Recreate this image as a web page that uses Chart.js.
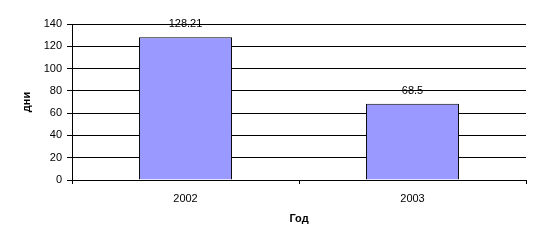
<!DOCTYPE html>
<html><head><meta charset="utf-8">
<script src="https://cdn.jsdelivr.net/npm/chart.js@4"></script>
<style>html,body{margin:0;padding:0;background:#fff}#wrap{width:542px;height:246px;position:relative}</style>
</head><body><div id="wrap"><canvas id="c"></canvas></div>
<script>
const categories = ["2002", "2003"];
const values = [128.21, 68.5];
const valueLabels = ["128.21", "68.5"];
const yTitle = "дни";
const xTitle = "Год";

const FONT = "'Liberation Sans', Arial, sans-serif";
const labelPlugin = {
  id: 'valueLabels',
  afterDatasetsDraw(chart) {
    const ctx = chart.ctx;
    const meta = chart.getDatasetMeta(0);
    ctx.save();
    ctx.font = "11px " + FONT;
    ctx.fillStyle = "#000";
    ctx.textAlign = "center";
    ctx.textBaseline = "middle";
    meta.data.forEach((bar, i) => {
      ctx.fillText(valueLabels[i], bar.x, bar.y - 13);
    });
    ctx.restore();
  }
};

new Chart(document.getElementById('c'), {
  type: 'bar',
  data: {
    labels: categories,
    datasets: [{
      data: values,
      backgroundColor: '#9999FF',
      borderColor: '#000',
      borderWidth: 1,
      barPercentage: 0.41,
      categoryPercentage: 1
    }]
  },
  options: {
    responsive: true,
    maintainAspectRatio: false,
    animation: false,
    layout: { padding: { left: 0, top: 24, right: 16, bottom: 0 } },
    plugins: { legend: { display: false }, tooltip: { enabled: false } },
    scales: {
      x: {
        offset: true,
        grid: { display: true, drawOnChartArea: false, drawTicks: true, tickLength: 4, color: '#000', offset: true },
        border: { display: true, color: '#000' },
        ticks: { color: '#000', font: { family: FONT, size: 11 }, padding: 8 },
        title: { display: true, text: xTitle, color: '#000', font: { family: FONT, size: 11, weight: 'bold' }, padding: { top: 0, bottom: 20 } },
        afterFit(s) { s.height = 66; }
      },
      y: {
        min: 0, max: 140,
        ticks: { stepSize: 20, color: '#000', font: { family: FONT, size: 11 }, padding: 5 },
        grid: { color: '#000', lineWidth: 1, drawTicks: true, tickLength: 5 },
        border: { display: true, color: '#000' },
        title: { display: true, text: yTitle, color: '#000', font: { family: FONT, size: 11, weight: 'bold' }, padding: { top: 20, bottom: 0 } },
        afterFit(s) { s.width = 72; }
      }
    }
  },
  plugins: [labelPlugin]
});
</script>
</body></html>
